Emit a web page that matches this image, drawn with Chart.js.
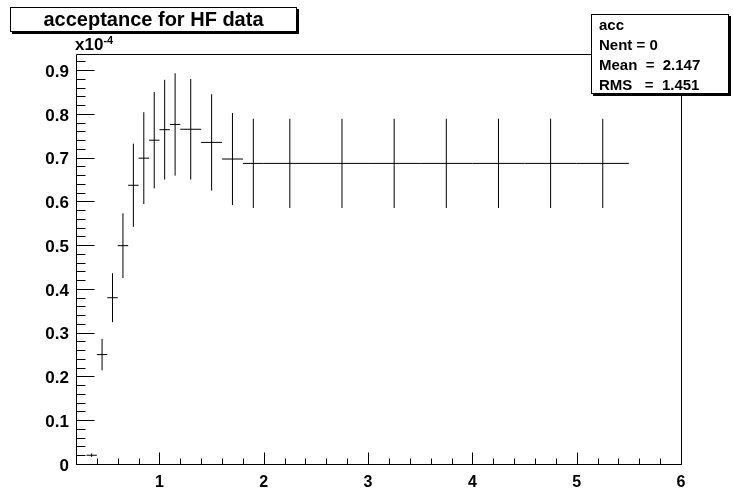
<!DOCTYPE html>
<html>
<head>
<meta charset="utf-8">
<script src="https://cdn.jsdelivr.net/npm/chart.js@4/dist/chart.umd.min.js"></script>
<style>
  html, body { margin: 0; padding: 0; background: #fff; }
  #wrap { position: relative; width: 733px; height: 495px; font-family: "Liberation Sans", Arial, sans-serif; }
  canvas { position: absolute; left: 0; top: 0; }
  .box { position: absolute; background: #fff; border: 1px solid #000; box-shadow: 2px 2px 0 #000; font-weight: bold; color: #000; }
  #title { left: 10px; top: 7px; width: 285px; height: 23px; font-size: 20px; line-height: 23px; text-align: center; }
  #stats { left: 591px; top: 14px; width: 138px; height: 80px; font-size: 15px; line-height: 20px; padding-left: 7px; box-sizing: border-box; white-space: pre; }
  #expo { position: absolute; left: 75px; top: 35px; font-size: 17px; font-weight: bold; line-height: 19px; }
  #expo sup { font-size: 11px; position: relative; top: -4px; vertical-align: top; }
</style>
</head>
<body>
<div id="wrap">
  <canvas id="c" width="733" height="495"></canvas>
  <div id="title" class="box">acceptance for HF data</div>
  <div id="stats" class="box">acc
Nent = 0
Mean  =  2.147
RMS   =  1.451</div>
  <div id="expo">x10<sup>-4</sup></div>
</div>
<script>
// ---- data (values in units of 1e-4) ----
const binLow  = [0.3, 0.4, 0.5, 0.6, 0.7, 0.8, 0.9, 1.0, 1.1, 1.2, 1.4, 1.6, 1.8, 2.0, 2.5, 3.0, 3.5, 4.0, 4.5, 5.0];
const binHigh = [0.4, 0.5, 0.6, 0.7, 0.8, 0.9, 1.0, 1.1, 1.2, 1.4, 1.6, 1.8, 2.0, 2.5, 3.0, 3.5, 4.0, 4.5, 5.0, 5.5];
const values  = [0.020, 0.250, 0.380, 0.499, 0.637, 0.699, 0.740, 0.764, 0.776, 0.765, 0.735, 0.697, 0.687, 0.687, 0.687, 0.687, 0.687, 0.687, 0.687, 0.687];
const errors  = [0.004, 0.036, 0.056, 0.074, 0.095, 0.105, 0.110, 0.114, 0.117, 0.115, 0.110, 0.105, 0.102, 0.102, 0.102, 0.102, 0.102, 0.102, 0.102, 0.102];
const xTickValues = [1, 2, 3, 4, 5, 6];
const yTickValues = [0, 0.1, 0.2, 0.3, 0.4, 0.5, 0.6, 0.7, 0.8, 0.9];
const yTickLabels = ['0', '0.1', '0.2', '0.3', '0.4', '0.5', '0.6', '0.7', '0.8', '0.9'];

const X_MIN = 0.2, X_MAX = 6, Y_MIN = 0, Y_MAX = 0.937;

// horizontal bin-width segments and vertical error segments, separated by gaps
const hData = [], vData = [];
for (let i = 0; i < values.length; i++) {
  const c = (binLow[i] + binHigh[i]) / 2;
  hData.push({x: binLow[i], y: values[i]}, {x: binHigh[i], y: values[i]}, {x: binHigh[i], y: null});
  vData.push({x: c, y: values[i] - errors[i]}, {x: c, y: values[i] + errors[i]}, {x: c, y: null});
}

const frameTicks = {
  id: 'frameTicks',
  afterDraw(chart) {
    const ctx = chart.ctx, a = chart.chartArea;
    const xs = chart.scales.x, ys = chart.scales.y;
    ctx.save();
    ctx.strokeStyle = '#000';
    ctx.lineWidth = 1;
    ctx.beginPath();
    ctx.rect(Math.round(a.left) + 0.5, Math.round(a.top) + 0.5, Math.round(a.right - a.left), Math.round(a.bottom - a.top));
    ctx.stroke();
    const b = Math.round(a.bottom) + 0.5, l = Math.round(a.left) + 0.5;
    ctx.beginPath();
    // x ticks
    for (let k = 0; k * 0.2 + X_MIN <= X_MAX + 1e-9; k++) {
      const v = X_MIN + k * 0.2;
      const major = xTickValues.some(t => Math.abs(t - v) < 1e-6);
      const px = Math.round(xs.getPixelForValue(v)) + 0.5;
      ctx.moveTo(px, b);
      ctx.lineTo(px, b - (major ? 12 : 6));
    }
    // y ticks
    for (let k = 0; k * 0.02 <= Y_MAX + 1e-9; k++) {
      const v = k * 0.02;
      const major = yTickValues.some(t => Math.abs(t - v) < 1e-6);
      const py = Math.round(ys.getPixelForValue(v)) + 0.5;
      ctx.moveTo(l, py);
      ctx.lineTo(l + (major ? 18 : 9), py);
    }
    ctx.stroke();
    ctx.restore();
  }
};

const lineStyle = {
  showLine: true, spanGaps: false, borderColor: '#000', borderWidth: 1,
  pointRadius: 0, pointHoverRadius: 0, fill: false, tension: 0
};

new Chart(document.getElementById('c'), {
  type: 'scatter',
  data: {
    datasets: [
      Object.assign({label: 'bins', data: hData}, lineStyle),
      Object.assign({label: 'errors', data: vData}, lineStyle)
    ]
  },
  options: {
    responsive: false,
    animation: false,
    devicePixelRatio: 1,
    layout: { padding: { top: 54, right: 52, left: 0, bottom: 0 } },
    plugins: { legend: { display: false }, tooltip: { enabled: false }, title: { display: false } },
    scales: {
      x: {
        type: 'linear', min: X_MIN, max: X_MAX,
        grid: { display: false, drawTicks: false },
        border: { display: false },
        afterBuildTicks: s => { s.ticks = xTickValues.map(v => ({value: v})); },
        afterFit: s => { s.height = 31; },
        ticks: {
          padding: 9, color: '#000',
          font: { family: '"Liberation Sans", Arial, sans-serif', size: 16, weight: 'bold' },
          maxRotation: 0, autoSkip: false,
          callback: v => String(v)
        }
      },
      y: {
        type: 'linear', min: Y_MIN, max: Y_MAX,
        grid: { display: false, drawTicks: false },
        border: { display: false },
        afterBuildTicks: s => { s.ticks = yTickValues.map(v => ({value: v})); },
        afterFit: s => { s.width = 76; },
        ticks: {
          padding: 7, color: '#000', labelOffset: 2,
          font: { family: '"Liberation Sans", Arial, sans-serif', size: 17, weight: 'bold' },
          autoSkip: false,
          callback: v => { const i = yTickValues.findIndex(t => Math.abs(t - v) < 1e-9); return i >= 0 ? yTickLabels[i] : ''; }
        }
      }
    }
  },
  plugins: [frameTicks]
});
</script>
</body>
</html>
